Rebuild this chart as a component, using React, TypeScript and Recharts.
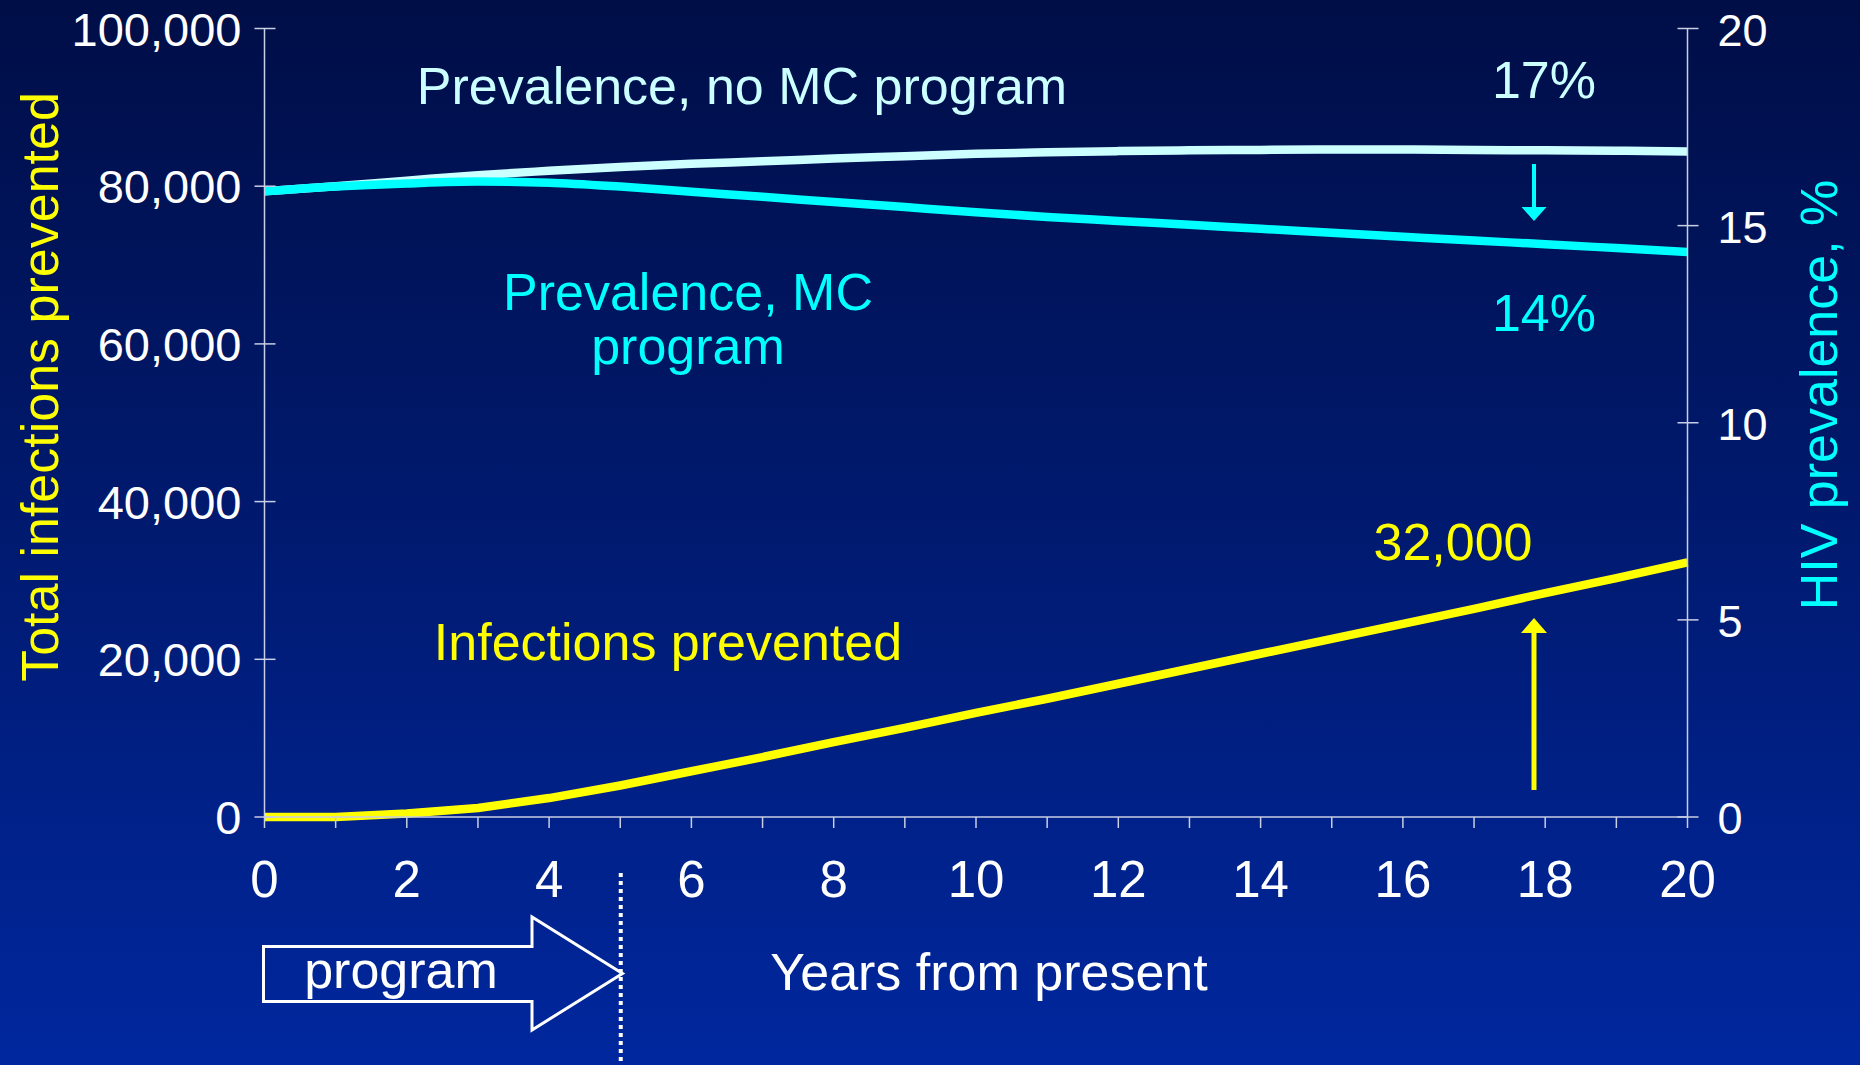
import { LineChart, Line, XAxis, YAxis } from "recharts";

// values
const years = [0, 1, 2, 3, 4, 5, 6, 7, 8, 9, 10, 11, 12, 13, 14, 15, 16, 17, 18, 19, 20];
const infectionsPrevented = [0, 0, 450, 1150, 2400, 4000, 5800, 7600, 9500, 11300, 13200, 15000, 16900, 18800, 20700, 22600, 24500, 26400, 28400, 30300, 32300];
const prevalenceNoMC = [15.87, 16.0, 16.14, 16.28, 16.39, 16.49, 16.57, 16.63, 16.7, 16.76, 16.82, 16.86, 16.89, 16.91, 16.92, 16.93, 16.93, 16.92, 16.91, 16.9, 16.88];
const prevalenceMC = [15.87, 15.99, 16.07, 16.12, 16.09, 15.99, 15.86, 15.73, 15.6, 15.47, 15.34, 15.22, 15.12, 15.02, 14.92, 14.82, 14.72, 14.62, 14.53, 14.43, 14.33];

const xTicks = years;
const leftTicks = [0, 20000, 40000, 60000, 80000, 100000];
const rightTicks = [0, 5, 10, 15, 20];

const data = years.map((year, i) => ({
    year,
    infections: infectionsPrevented[i],
    noMC: prevalenceNoMC[i],
    mc: prevalenceMC[i],
}));

const W = 1860;
const H = 1065;
const PLOT_LEFT = 264.5;
const PLOT_RIGHT = 1687.5;
const PLOT_TOP = 28.5;
const PLOT_BOTTOM = 817;
const LEFT_AXIS_W = 200;
const RIGHT_AXIS_W = 100;
const X_AXIS_H = 60;

const FONT = '"Liberation Sans", Arial, sans-serif';
const AXIS = "#C8CEE4";
const YELLOW = "#FFFF00";
const CYAN = "#00FFFF";
const PALE = "#CCFFFF";

const fmt = (v: number) => v.toLocaleString("en-US");

const LeftTick = (props: any) => {
    const { x, y, payload } = props;
    return (
        <g>
            <line x1={x - 10} x2={x + 11} y1={y} y2={y} stroke={AXIS} strokeWidth={1.5} />
            <text x={x - 23} y={y + 17} textAnchor="end" fill="#fff" fontSize={47} fontFamily={FONT}>
                {fmt(payload.value)}
            </text>
        </g>
    );
};

const RightTick = (props: any) => {
    const { x, y, payload } = props;
    return (
        <g>
            <line x1={x - 10} x2={x + 11} y1={y} y2={y} stroke={AXIS} strokeWidth={1.5} />
            <text x={x + 30} y={y + 17} textAnchor="start" fill="#fff" fontSize={45} fontFamily={FONT}>
                {payload.value}
            </text>
        </g>
    );
};

const BottomTick = (props: any) => {
    const { x, y, payload } = props;
    if (payload.value % 2 !== 0) return <g />;
    return (
        <text x={x} y={y + 69} textAnchor="middle" fill="#fff" fontSize={51} fontFamily={FONT}>
            {payload.value}
        </text>
    );
};

const Annotations = () => {
    const x5 = PLOT_LEFT + (5 / 20) * (PLOT_RIGHT - PLOT_LEFT);
    return (
        <svg width={W} height={H} style={{ position: "absolute", left: 0, top: 0, pointerEvents: "none" }}>
            <g fontFamily={FONT} fontSize={52}>
                <text x={742} y={104} textAnchor="middle" fill={PALE}>Prevalence, no MC program</text>
                <text x={1544} y={98} textAnchor="middle" fill={PALE}>17%</text>
                <text x={1544} y={331} textAnchor="middle" fill={CYAN}>14%</text>
                <text x={688} y={310} textAnchor="middle" fill={CYAN}>Prevalence, MC</text>
                <text x={688} y={364} textAnchor="middle" fill={CYAN}>program</text>
                <text x={668} y={660} textAnchor="middle" fill={YELLOW}>Infections prevented</text>
                <text x={1453} y={560} textAnchor="middle" fill={YELLOW}>32,000</text>
                <text x={989} y={990} textAnchor="middle" fill="#fff">Years from present</text>
                <text x={401} y={988} textAnchor="middle" fill="#fff">program</text>
                <text transform="translate(58,387) rotate(-90)" textAnchor="middle" fill={YELLOW}>
                    Total infections prevented
                </text>
                <text transform="translate(1837,395) rotate(-90)" textAnchor="middle" fill={CYAN}>
                    HIV prevalence, %
                </text>
            </g>
            {/* arrow to the MC curve */}
            <rect x={1532} y={164} width={4} height={44} fill={CYAN} />
            <polygon points="1521.5,207 1546.5,207 1534,221" fill={CYAN} />
            {/* arrow up to infections prevented */}
            <rect x={1531.5} y={632} width={5} height={158} fill={YELLOW} />
            <polygon points="1521,633 1547,633 1534,618" fill={YELLOW} />
            {/* program block arrow */}
            <polygon
                points="263.5,946.5 532,946.5 532,917 622.5,973.5 532,1030 532,1001.5 263.5,1001.5"
                fill="none"
                stroke="#fff"
                strokeWidth={3}
            />
            <line x1={x5 + 0.5} x2={x5 + 0.5} y1={873} y2={H} stroke="#fff" strokeWidth={4} strokeDasharray="4 4" />
        </svg>
    );
};

export default function App() {
    return (
        <div
            style={{
                position: "absolute",
                left: 0,
                top: 0,
                width: W,
                height: H,
                background: "linear-gradient(to bottom, #000E47 0%, #001A70 50%, #00279E 100%)",
                overflow: "hidden",
            }}
        >
            <LineChart
                width={W}
                height={H}
                data={data}
                margin={{
                    top: PLOT_TOP,
                    right: W - PLOT_RIGHT - RIGHT_AXIS_W,
                    bottom: H - PLOT_BOTTOM - X_AXIS_H,
                    left: PLOT_LEFT - LEFT_AXIS_W,
                }}
            >
                <XAxis
                    dataKey="year"
                    type="number"
                    domain={[0, 20]}
                    ticks={xTicks}
                    interval={0}
                    height={X_AXIS_H}
                    tickSize={11}
                    tickMargin={0}
                    tick={<BottomTick />}
                    axisLine={{ stroke: AXIS, strokeWidth: 1.5 }}
                    tickLine={{ stroke: AXIS, strokeWidth: 1.5 }}
                />
                <YAxis
                    yAxisId="left"
                    orientation="left"
                    domain={[0, 100000]}
                    ticks={leftTicks}
                    interval={0}
                    width={LEFT_AXIS_W}
                    tickSize={0}
                    tickMargin={0}
                    tickLine={false}
                    tick={<LeftTick />}
                    axisLine={{ stroke: AXIS, strokeWidth: 1.5 }}
                />
                <YAxis
                    yAxisId="right"
                    orientation="right"
                    domain={[0, 20]}
                    ticks={rightTicks}
                    interval={0}
                    width={RIGHT_AXIS_W}
                    tickSize={0}
                    tickMargin={0}
                    tickLine={false}
                    tick={<RightTick />}
                    axisLine={{ stroke: AXIS, strokeWidth: 1.5 }}
                />
                <Line
                    yAxisId="right"
                    type="monotone"
                    dataKey="noMC"
                    stroke={PALE}
                    strokeWidth={8.5}
                    dot={false}
                    activeDot={false}
                    isAnimationActive={false}
                />
                <Line
                    yAxisId="right"
                    type="monotone"
                    dataKey="mc"
                    stroke={CYAN}
                    strokeWidth={8.5}
                    dot={false}
                    activeDot={false}
                    isAnimationActive={false}
                />
                <Line
                    yAxisId="left"
                    type="linear"
                    dataKey="infections"
                    stroke={YELLOW}
                    strokeWidth={8.5}
                    strokeLinejoin="round"
                    dot={false}
                    activeDot={false}
                    isAnimationActive={false}
                />
            </LineChart>
            <Annotations />
        </div>
    );
}
